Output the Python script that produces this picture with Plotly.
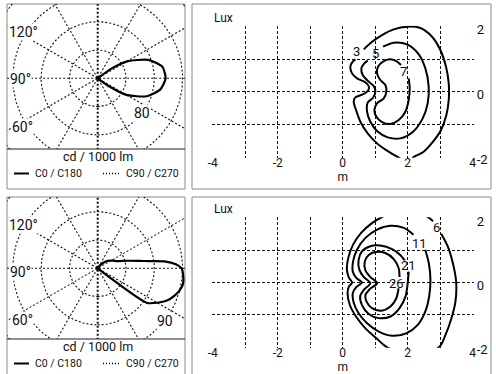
import numpy as np
import plotly.graph_objects as go

W, H = 496, 374
FONT = "Roboto, 'DejaVu Sans', sans-serif"
INK = "#111111"

# ---------------- data ----------------
# Light distribution, C0/C180 plane (cd / 1000 lm); gamma = degrees from nadir on the C0 side
top_gamma = [0, 30, 50, 55, 60, 70, 80, 90, 100, 110, 120, 125, 130, 150, 180]
top_cd = [0, 0, 0, 21, 47, 74, 90, 96, 93, 76, 48, 25, 0, 0, 0]
bot_gamma = [0, 30, 50, 55, 60, 65, 70, 75, 80, 85, 90, 93, 96, 98, 100, 104, 110, 117, 127, 140, 150, 180]
bot_cd = [0, 0, 0, 64, 73, 81, 86, 90, 92, 91, 89, 83, 71, 55, 45, 33, 22, 18, 13, 5, 0, 0]
top_rings = [40, 80, 120, 160]
bot_rings = [30, 60, 90, 120]
top_ring_label = 80
bot_ring_label = 90
spoke_angles = [0, 30, 60, 90, 120, 150]
angle_labels = ["120°", "90°", "60°"]
legend_labels = ["C0 / C180", "C90 / C270"]
polar_unit = "cd / 1000 lm"

# Isolux lines (x, y in m)
top_levels = ["3", "5", "7"]
top_label_x = [0.41, 1.0, 1.88]
top_label_y = [1.23, 1.18, 0.62]
iso3_x = [0.646, 0.903, 1.21, 1.569, 1.979, 2.39, 2.749, 3.005, 3.179, 3.262, 3.262, 3.19, 3.026, 2.779, 2.492, 2.205, 1.979, 1.672, 1.364, 1.056, 0.769, 0.544, 0.41, 0.338, 0.39, 0.595, 0.779, 0.8, 0.667, 0.441, 0.287, 0.236, 0.308, 0.39]
iso3_y = [1.303, 1.538, 1.744, 1.918, 2.0, 1.959, 1.692, 1.282, 0.769, 0.256, -0.256, -0.718, -1.179, -1.538, -1.846, -2.0, -2.154, -2.0, -1.815, -1.59, -1.282, -0.923, -0.564, -0.308, -0.174, -0.092, 0.031, 0.174, 0.308, 0.41, 0.564, 0.769, 0.923, 0.995]
iso5_x = [1.241, 1.569, 1.979, 2.318, 2.544, 2.646, 2.615, 2.462, 2.164, 1.774, 1.385, 1.056, 0.851, 0.749, 0.769, 0.933, 1.005, 0.954, 0.779, 0.615, 0.574, 0.667, 0.769]
iso5_y = [1.385, 1.508, 1.456, 1.179, 0.718, 0.154, -0.359, -0.821, -1.231, -1.436, -1.405, -1.21, -0.923, -0.615, -0.338, -0.185, 0.0, 0.174, 0.328, 0.513, 0.718, 0.872, 0.954]
iso7_x = [2.031, 2.062, 2.031, 1.928, 1.723, 1.467, 1.21, 1.036, 0.974, 1.056, 1.262, 1.344, 1.313, 1.159, 1.056, 1.087, 1.241, 1.446, 1.651, 1.795]
iso7_y = [0.41, 0.103, -0.256, -0.615, -0.872, -0.995, -0.933, -0.769, -0.564, -0.359, -0.205, 0.0, 0.205, 0.359, 0.564, 0.769, 0.923, 0.995, 0.944, 0.821]

bot_levels = ["6", "11", "21", "26"]
bot_label_x = [2.90, 2.37, 2.03, 1.67]
bot_label_y = [1.70, 1.21, 0.52, -0.02]
iso6_x = [3.03, 3.23, 3.39, 3.49, 3.47, 3.33, 3.16, 2.98, 2.13, 1.31, 1.04, 0.70, 0.41, 0.22, 0.15, 0.19, 0.29, 0.19, 0.13, 0.17, 0.32, 0.56, 0.90, 1.21, 1.88, 2.62, 2.78]
iso6_y = [1.52, 1.13, 0.60, 0.03, -0.59, -1.17, -1.64, -2.00, -2.31, -1.98, -1.74, -1.43, -1.06, -0.70, -0.33, -0.13, 0.00, 0.15, 0.40, 0.76, 1.18, 1.54, 1.85, 2.04, 2.32, 2.04, 1.91]
iso11_x = [2.54, 2.65, 2.70, 2.66, 2.54, 2.31, 1.96, 1.52, 1.11, 0.75, 0.49, 0.34, 0.31, 0.41, 0.59, 0.41, 0.31, 0.32, 0.44, 0.70, 1.06, 1.47, 1.88, 2.18]
iso11_y = [1.02, 0.60, 0.08, -0.44, -0.91, -1.32, -1.58, -1.66, -1.53, -1.27, -0.96, -0.63, -0.33, -0.15, 0.00, 0.15, 0.34, 0.66, 1.02, 1.39, 1.65, 1.77, 1.70, 1.49]
iso21_x = [2.03, 2.00, 1.93, 1.75, 1.47, 1.11, 0.80, 0.59, 0.54, 0.65, 0.85, 0.65, 0.51, 0.49, 0.59, 0.85, 1.16, 1.52, 1.77, 1.91]
iso21_y = [0.34, -0.02, -0.44, -0.80, -1.06, -1.11, -0.98, -0.70, -0.42, -0.23, -0.02, 0.17, 0.40, 0.71, 0.97, 1.13, 1.15, 1.04, 0.86, 0.69]
iso26_x = [1.72, 1.65, 1.47, 1.18, 0.90, 0.73, 0.70, 0.83, 1.06, 0.85, 0.70, 0.68, 0.80, 1.01, 1.31, 1.57, 1.72, 1.75]
iso26_y = [-0.18, -0.49, -0.75, -0.88, -0.80, -0.59, -0.39, -0.21, -0.02, 0.17, 0.38, 0.66, 0.86, 0.95, 0.92, 0.73, 0.45, 0.17]

x_ticks = [-4, -2, 0, 2, 4]
x_ticktext = ["-4", "-2", "0", "2", "4"]
y_ticks = [-2, 0, 2]
y_ticktext = ["-2", "0", "2"]
iso_unit = "Lux"
iso_axis_title = "m"

# ---------------- geometry (pixels) ----------------
def px(x):
    return x / W

def py(y):
    return 1 - y / H

POLAR = [
    dict(x0=7, x1=185, y0=4, y1=149, cx=97.7, cy=78.3, k=40 / 28.3),
    dict(x0=7, x1=185, y0=197, y1=339, cx=97.7, cy=268.3, k=30 / 28.3),
]
ISO = [
    dict(xc=342.7, sx=32.5, yc=91.7, sy=32.5),
    dict(xc=342.7, sx=32.5, yc=282.5, sy=32.1),
]
XR, YR = 4.03, 2.03


def polar_xy(r, g_deg):
    g = np.radians(np.asarray(g_deg, float))
    r = np.asarray(r, float)
    return r * np.sin(g), -r * np.cos(g)


def paper_text(x, y, text, size, xanchor="left", bg=None):
    d = dict(x=px(x), y=py(y), xref="paper", yref="paper", text=text, showarrow=False,
             xanchor=xanchor, yanchor="middle", font=dict(size=size, color=INK, family=FONT))
    if bg:
        d.update(bgcolor=bg, borderpad=0)
    return d


fig = go.Figure()
annotations = []
shapes = []

polar_sets = [
    (top_gamma, top_cd, top_rings, top_ring_label, "x", "y"),
    (bot_gamma, bot_cd, bot_rings, bot_ring_label, "x3", "y3"),
]
for (gam, cd, rings, rlab, xa, ya), box in zip(polar_sets, POLAR):
    t = np.linspace(0, 360, 241)
    for r in rings:
        x, y = polar_xy(np.full_like(t, r), t)
        fig.add_trace(go.Scatter(x=x, y=y, mode="lines", xaxis=xa, yaxis=ya,
                                 line=dict(color=INK, width=1.1, dash="2px,2px"), hoverinfo="skip"))
    R = 1000
    for a in spoke_angles:
        x, y = polar_xy([R, R], [a, a + 180])
        fig.add_trace(go.Scatter(x=x, y=y, mode="lines", xaxis=xa, yaxis=ya,
                                 line=dict(color=INK, width=2 if a == 0 else 1.1,
                                           dash="2px,2px"), hoverinfo="skip"))
    x, y = polar_xy(cd, gam)
    fig.add_trace(go.Scatter(x=x, y=y, mode="lines", xaxis=xa, yaxis=ya,
                             line=dict(color="black", width=2.2, shape="spline", smoothing=0.6),
                             hoverinfo="skip"))
    lx, ly = polar_xy([rlab], [52])
    annotations.append(dict(x=float(lx[0]), y=float(ly[0]), xref=xa, yref=ya, text=str(rlab),
                            showarrow=False, bgcolor="white", borderpad=0, xanchor="center",
                            yanchor="middle", font=dict(size=14, color=INK, family=FONT)))
    off = box["y0"] - 4
    for lab, yy, xx in zip(angle_labels, [32, 79, 127], [8, 9, 11]):
        annotations.append(paper_text(xx, off + yy, lab, 14, bg="white"))
    base = box["y1"]
    annotations.append(paper_text(98, base + 7, polar_unit, 12.5, xanchor="center"))
    ly_ = base + 24.5
    shapes.append(dict(type="line", xref="paper", yref="paper", x0=px(14), x1=px(29), y0=py(ly_), y1=py(ly_),
                       line=dict(color="black", width=2)))
    shapes.append(dict(type="line", xref="paper", yref="paper", x0=px(103), x1=px(120), y0=py(ly_), y1=py(ly_),
                       line=dict(color="black", width=1.5, dash="1px,2px")))
    annotations.append(paper_text(33, ly_, legend_labels[0], 10.5))
    annotations.append(paper_text(124, ly_, legend_labels[1], 10.5))
    shapes.append(dict(type="line", xref="paper", yref="paper", x0=px(7), x1=px(185),
                       y0=py(base), y1=py(base), line=dict(color="#222", width=1.2)))

iso_sets = [
    ([(iso3_x, iso3_y), (iso5_x, iso5_y), (iso7_x, iso7_y)], top_levels, top_label_x, top_label_y, "x2", "y2"),
    ([(iso6_x, iso6_y), (iso11_x, iso11_y), (iso21_x, iso21_y), (iso26_x, iso26_y)],
     bot_levels, bot_label_x, bot_label_y, "x4", "y4"),
]
for (curves, levels, lxs, lys, xa, ya), g in zip(iso_sets, ISO):
    for cx_, cy_ in curves:
        fig.add_trace(go.Scatter(x=cx_, y=cy_, mode="lines", xaxis=xa, yaxis=ya,
                                 line=dict(color="black", width=2, shape="spline", smoothing=0.8),
                                 hoverinfo="skip"))
    for lev, lx, ly in zip(levels, lxs, lys):
        annotations.append(dict(x=lx, y=ly, xref=xa, yref=ya, text=lev, showarrow=False,
                                xanchor="center", yanchor="middle",
                                font=dict(size=13, color=INK, family=FONT)))
    top = g["yc"] - YR * g["sy"]
    annotations.append(paper_text(212, top - 8, iso_unit, 12))

for (x0, y0, x1, y1) in [(7, 4, 185, 189), (192, 4, 491, 189), (7, 197, 185, 380), (192, 197, 491, 380)]:
    shapes.append(dict(type="rect", xref="paper", yref="paper", x0=px(x0), x1=px(x1), y0=py(y1), y1=py(y0),
                       line=dict(color="#8a8a8a", width=1), layer="below"))

hidden = dict(visible=False, showgrid=False, zeroline=False, fixedrange=True, automargin=False)
layout = dict(template="none", width=W, height=H, margin=dict(l=0, r=0, t=0, b=0, pad=0, autoexpand=False),
              paper_bgcolor="white", plot_bgcolor="rgba(0,0,0,0)", showlegend=False,
              annotations=annotations, shapes=shapes, font=dict(family=FONT, color=INK))
for box, (xn, yn) in zip(POLAR, [("xaxis", "yaxis"), ("xaxis3", "yaxis3")]):
    k = box["k"]
    layout[xn] = dict(hidden, domain=[px(box["x0"]), px(box["x1"])],
                      range=[-(box["cx"] - box["x0"]) * k, (box["x1"] - box["cx"]) * k])
    layout[yn] = dict(hidden, domain=[py(box["y1"]), py(box["y0"])],
                      range=[-(box["y1"] - box["cy"]) * k, (box["cy"] - box["y0"]) * k])

grid = dict(showgrid=True, gridcolor=INK, gridwidth=1, griddash="3px,2px")
for g, (xn, yn), an in zip(ISO, [("xaxis2", "yaxis2"), ("xaxis4", "yaxis4")], ["x2", "x4"]):
    layout[xn] = dict(domain=[px(g["xc"] - XR * g["sx"]), px(g["xc"] + XR * g["sx"])],
                      range=[-XR, XR], tickvals=x_ticks, ticktext=x_ticktext, ticks="",
                      zeroline=False, showline=False, fixedrange=True, automargin=False,
                      ticklabelstandoff=-4,
                      tickfont=dict(size=12, color=INK, family=FONT),
                      title=dict(text=iso_axis_title, standoff=1, font=dict(size=12, color=INK, family=FONT)),
                      minor=dict(dtick=1, tick0=0, **grid), anchor=an.replace("x", "y"), **grid)
    layout[yn] = dict(domain=[py(g["yc"] + YR * g["sy"]), py(g["yc"] - YR * g["sy"])],
                      range=[-YR, YR], tickvals=y_ticks, ticktext=y_ticktext, ticks="", side="right",
                      zeroline=False, showline=False, fixedrange=True, automargin=False,
                      ticklabelshift=3, ticklabelstandoff=2,
                      tickfont=dict(size=13, color=INK, family=FONT),
                      minor=dict(dtick=1, tick0=0, **grid), anchor=an, **grid)

fig.update_layout(**layout)
fig.write_html("out.html", config={"displayModeBar": False},
               post_script="document.body.style.margin='0px';")
